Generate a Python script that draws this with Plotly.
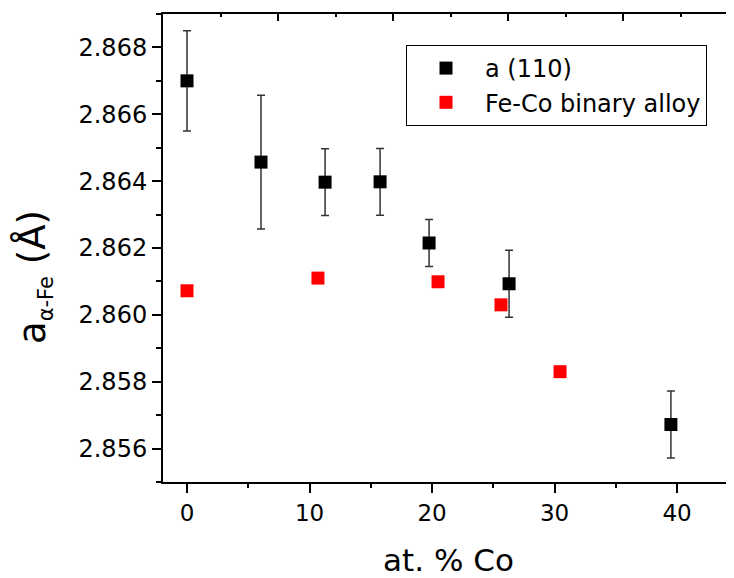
import plotly.graph_objects as go

# a (110) series
x_a110 = [0.0, 6.04, 11.27, 15.76, 19.76, 26.29, 39.5]
y_a110 = [2.8670, 2.86457, 2.86397, 2.86398, 2.86215, 2.86093, 2.85672]
err_a110 = [0.0015, 0.0020, 0.0010, 0.0010, 0.0007, 0.0010, 0.0010]

# Fe-Co binary alloy series
x_feco = [0.0, 10.69, 20.49, 25.63, 30.45]
y_feco = [2.86072, 2.86110, 2.86099, 2.86030, 2.85830]

x_ticks = [0, 10, 20, 30, 40]
y_ticks = [2.856, 2.858, 2.860, 2.862, 2.864, 2.866, 2.868]
y_tick_labels = ["2.856", "2.858", "2.860", "2.862", "2.864", "2.866", "2.868"]

FONT = "DejaVu Sans, Liberation Sans, sans-serif"

fig = go.Figure()
fig.add_trace(go.Scatter(
    x=x_a110, y=y_a110, mode="markers", name="a (110)",
    marker=dict(symbol="square", size=13, color="black"),
    error_y=dict(type="data", array=err_a110, visible=True,
                 color="#333333", thickness=1.5, width=4),
))
fig.add_trace(go.Scatter(
    x=x_feco, y=y_feco, mode="markers", name="Fe-Co binary alloy",
    marker=dict(symbol="square", size=13, color="#ff0000"),
))
# invisible trace carrying the mirror axes (top / right inner ticks)
fig.add_trace(go.Scatter(x=[None], y=[None], xaxis="x2", yaxis="y2",
                         showlegend=False, hoverinfo="skip"))

# page body has an 8px margin, so the figure is 8px smaller and margins shifted
fig.update_layout(
    width=726, height=570,
    margin=dict(l=155, r=0, t=6, b=96, autoexpand=False),
    paper_bgcolor="white", plot_bgcolor="white",
    font=dict(family=FONT, color="black"),
    showlegend=True,
    legend=dict(
        x=(406 - 163) / 571, y=(482 - 45) / 468, xanchor="left", yanchor="top",
        bordercolor="black", borderwidth=1, bgcolor="white",
        font=dict(size=24, family=FONT),
        itemwidth=68, tracegroupgap=0, traceorder="normal",
    ),
    xaxis=dict(
        range=[-1.96, 44.65], tickmode="array", tickvals=x_ticks,
        ticks="outside", ticklen=9, tickwidth=2, tickcolor="black",
        showline=True, linewidth=2, linecolor="black",
        showgrid=False, zeroline=False,
        tickfont=dict(size=23, family=FONT),
        minor=dict(dtick=5, tick0=0, ticks="outside", ticklen=4,
                   tickwidth=2, tickcolor="black", showgrid=False),
        title=dict(text="at. % Co", font=dict(size=31, family=FONT), standoff=35),
    ),
    yaxis=dict(
        range=[2.855, 2.869], tickmode="array", tickvals=y_ticks,
        ticktext=y_tick_labels,
        ticks="outside", ticklen=9, tickwidth=2, tickcolor="black",
        showline=True, linewidth=2, linecolor="black",
        showgrid=False, zeroline=False,
        tickfont=dict(size=24, family=FONT),
        minor=dict(dtick=0.001, tick0=2.855, ticks="outside", ticklen=5,
                   tickwidth=2, tickcolor="black", showgrid=False),
    ),
    xaxis2=dict(
        overlaying="x", side="top", range=[0, 9.93],
        tickmode="linear", tick0=0, dtick=2,
        ticks="inside", ticklen=7, tickwidth=2, tickcolor="black",
        showticklabels=False, showline=True, linewidth=2, linecolor="black",
        showgrid=False, zeroline=False,
        minor=dict(dtick=1, ticks="inside", ticklen=3, tickwidth=2,
                   tickcolor="black", showgrid=False),
    ),
    yaxis2=dict(
        overlaying="y", side="right", range=[0, 5.005],
        tickmode="linear", tick0=0, dtick=1,
        ticks="inside", ticklen=5, tickwidth=2, tickcolor="black",
        showticklabels=False, showline=False,
        showgrid=False, zeroline=False,
    ),
    annotations=[dict(
        xref="paper", yref="paper", x=(34 - 163) / 571, y=(482 - 277) / 468,
        xanchor="center", yanchor="middle", textangle=-90, showarrow=False,
        text="a<sub><span style='font-size:21px'>α-Fe</span></sub> (Å)",
        font=dict(size=37, family=FONT, color="black"),
    )],
)

fig.write_html("out.html")
